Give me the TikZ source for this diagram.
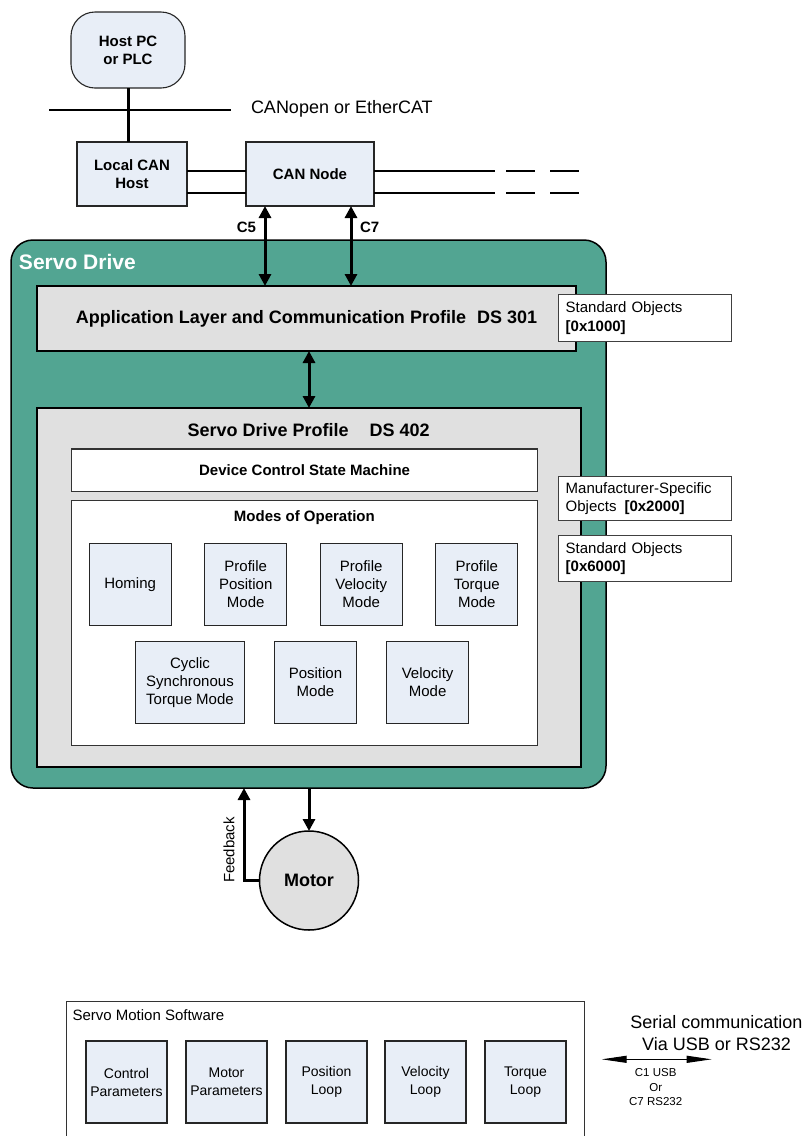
\documentclass[tikz,border=0pt]{standalone}
\usepackage{fontspec}
\setmainfont{Liberation Sans}
\usetikzlibrary{arrows.meta}
\definecolor{tealfill}{RGB}{82,165,146}
\definecolor{lgray}{RGB}{224,224,224}
\definecolor{lblue}{RGB}{232,238,247}
\newcommand\fs[2]{\fontsize{#1}{#2}\selectfont}
\begin{document}
\begin{tikzpicture}[x=1pt,y=-1pt,
  every node/.style={inner sep=0pt, outer sep=0pt},
  bluebox/.style={draw=black!85, line width=1.1pt, fill=lblue, align=center, font=\fs{15}{18}},
  graybox/.style={draw=black, line width=1.3pt, fill=lgray, align=center},
  whitebox/.style={draw=black!80, line width=1.1pt, fill=white, align=center},
  objbox/.style={draw=black!75, line width=1pt, fill=white, align=left, text width=159pt, inner xsep=7pt, minimum width=173, font=\fs{15}{18.5}},
  modebox/.style={bluebox, minimum height=81.6},
  swbox/.style={bluebox, font=\fs{14}{18}, minimum width=81, minimum height=82},
  dbl/.style={line width=3pt, {Triangle[length=12pt,width=12pt]}-{Triangle[length=12pt,width=12pt]}},
  sarrow/.style={line width=3pt, -{Triangle[length=12pt,width=12pt]}},
  canline/.style={line width=1.8pt}
]
\useasboundingbox (0,0) rectangle (803,1136);
\fill[white] (0,0) rectangle (803,1136);

% ---------- top: host and bus ----------
\node[bluebox, rounded corners=24pt, minimum width=114, minimum height=76, font=\bfseries\fs{15}{18}] (host) at (128,50) {Host PC\\or PLC};
\coordinate (busL) at (49,110);
\coordinate (busR) at (231,110);
\draw[line width=2pt] (busL) -- (busR);
\node[anchor=west, font=\fs{18}{21}] (bustxt) at (251,109) {CANopen or EtherCAT};

\node[bluebox, font=\bfseries\fs{15}{18}, minimum width=110, minimum height=64] (local) at (132,174) {Local CAN\\Host};
\node[bluebox, font=\bfseries\fs{15}{18}, minimum width=128, minimum height=64] (cannode) at (310,174) {CAN Node};
\draw[line width=3pt] (host.south) -- (host.south |- local.north);

\coordinate (endA) at (579,171);
\coordinate (endB) at (579,193);
\draw[canline] (local.east |- 0,171) -- (cannode.west |- 0,171);
\draw[canline] (local.east |- 0,193) -- (cannode.west |- 0,193);
\draw[canline, dash pattern=on 121pt off 11pt on 29pt off 15pt on 40pt] (cannode.east |- endA) -- (endA);
\draw[canline, dash pattern=on 121pt off 11pt on 29pt off 15pt on 40pt] (cannode.east |- endB) -- (endB);

% ---------- servo drive ----------
\node[draw=black, line width=1.5pt, fill=tealfill, rounded corners=22pt, minimum width=595, minimum height=548] (servo) at (308.5,514) {};
\node[anchor=west, text=white, font=\bfseries\fs{21}{24}] (servolbl) at (19,262) {Servo Drive};

\node[graybox, minimum width=539, minimum height=65, font=\bfseries\fs{18}{21}] (app) at (306.5,318.5) {Application Layer and Communication Profile\hspace{11pt}DS 301};

\coordinate (c5) at (265,0);
\coordinate (c7) at (351,0);
\draw[dbl] (cannode.south -| c5) -- (app.north -| c5);
\draw[dbl] (cannode.south -| c7) -- (app.north -| c7);
\node[anchor=east, font=\bfseries\fs{15}{18}] (c5lbl) at (256,227) {C5};
\node[anchor=west, font=\bfseries\fs{15}{18}] (c7lbl) at (360,227) {C7};

\node[graybox, minimum width=544, minimum height=359] (profile) at (309,587.5) {};
\node[font=\bfseries\fs{18}{21}] (proftitle) at (308.6,430) {Servo Drive Profile\hspace{21pt}DS 402};
\coordinate (mid) at (309,0);
\draw[dbl] (app.south -| mid) -- (profile.north -| mid);

\node[whitebox, minimum width=466, minimum height=42.7, font=\bfseries\fs{15}{18}] (dcsm) at (304.6,470.3) {Device Control State Machine};
\node[whitebox, minimum width=466, minimum height=245] (modes) at (304.6,623.2) {};
\node[font=\bfseries\fs{15}{18}] (modestitle) at (304.4,517.5) {Modes of Operation};

\node[modebox, minimum width=82] (homing) at (130.1,584.5) {Homing};
\node[modebox, minimum width=82] (ppm) at (245.7,584.5) {Profile\\Position\\Mode};
\node[modebox, minimum width=82] (pvm) at (361.2,584.5) {Profile\\Velocity\\Mode};
\node[modebox, minimum width=82] (ptm) at (476.8,584.5) {Profile\\Torque\\Mode};
\node[modebox, minimum width=108.3] (cst) at (190,682.5) {Cyclic\\Synchronous\\Torque Mode};
\node[modebox, minimum width=81.5] (posm) at (315.5,682.5) {Position\\Mode};
\node[modebox, minimum width=81.5] (velm) at (427.6,682.5) {Velocity\\Mode};

% ---------- object dictionary boxes ----------
\node[objbox, minimum height=47.4] (std1) at (645.2,318) {Standard Objects\\\textbf{[0x1000]}};
\node[objbox, minimum height=43.3] (mfr) at (645.2,498.5) {Manufacturer-Specific\\Objects\hspace{8pt}\textbf{[0x2000]}};
\node[objbox, minimum height=45.7] (std6) at (645.2,558.8) {Standard Objects\\\textbf{[0x6000]}};

% ---------- motor ----------
\node[circle, draw=black, line width=1.5pt, fill=lgray, minimum size=99, font=\bfseries\fs{18}{21}] (motor) at (309,880.5) {Motor};
\draw[sarrow] (servo.south -| motor.north) -- (motor.north);
\coordinate (fbx) at (244,0);
\draw[sarrow] (motor.west) -| (servo.south -| fbx);
\node[rotate=90, font=\fs{15}{18}] (fblbl) at (229,850) {Feedback};

% ---------- servo motion software ----------
\coordinate (swBL) at (66,1136);
\coordinate (swTL) at (66,1001);
\coordinate (swTR) at (584,1001);
\coordinate (swBR) at (584,1136);
\draw[draw=black!80, line width=1pt] (swBL) -- (swTL) -- (swTR) -- (swBR);
\node[anchor=west, font=\fs{15}{18}] (swlbl) at (72.5,1015) {Servo Motion Software};

\node[swbox] (ctrl) at (126.5,1082) {Control\\Parameters};
\node[swbox] (motp) at (226.5,1082) {Motor\\Parameters};
\node[swbox] (posl) at (326.5,1082) {Position\\Loop};
\node[swbox] (vell) at (425.5,1082) {Velocity\\Loop};
\node[swbox] (torl) at (525.5,1082) {Torque\\Loop};

\coordinate (serL) at (601.7,1059.3);
\coordinate (serR) at (711.7,1059.3);
\draw[line width=1pt, {Triangle[length=25pt,width=7pt]}-{Triangle[length=25pt,width=7pt]}] (serL) -- (serR);
\node[align=center, font=\fs{18}{21.6}] (sertxt) at (716.5,1033) {Serial communication\\Via USB or RS232};
\node[align=center, font=\fs{11.5}{14.5}] (contxt) at (655.7,1087.5) {C1 USB\\Or\\C7 RS232};
\end{tikzpicture}
\end{document}
